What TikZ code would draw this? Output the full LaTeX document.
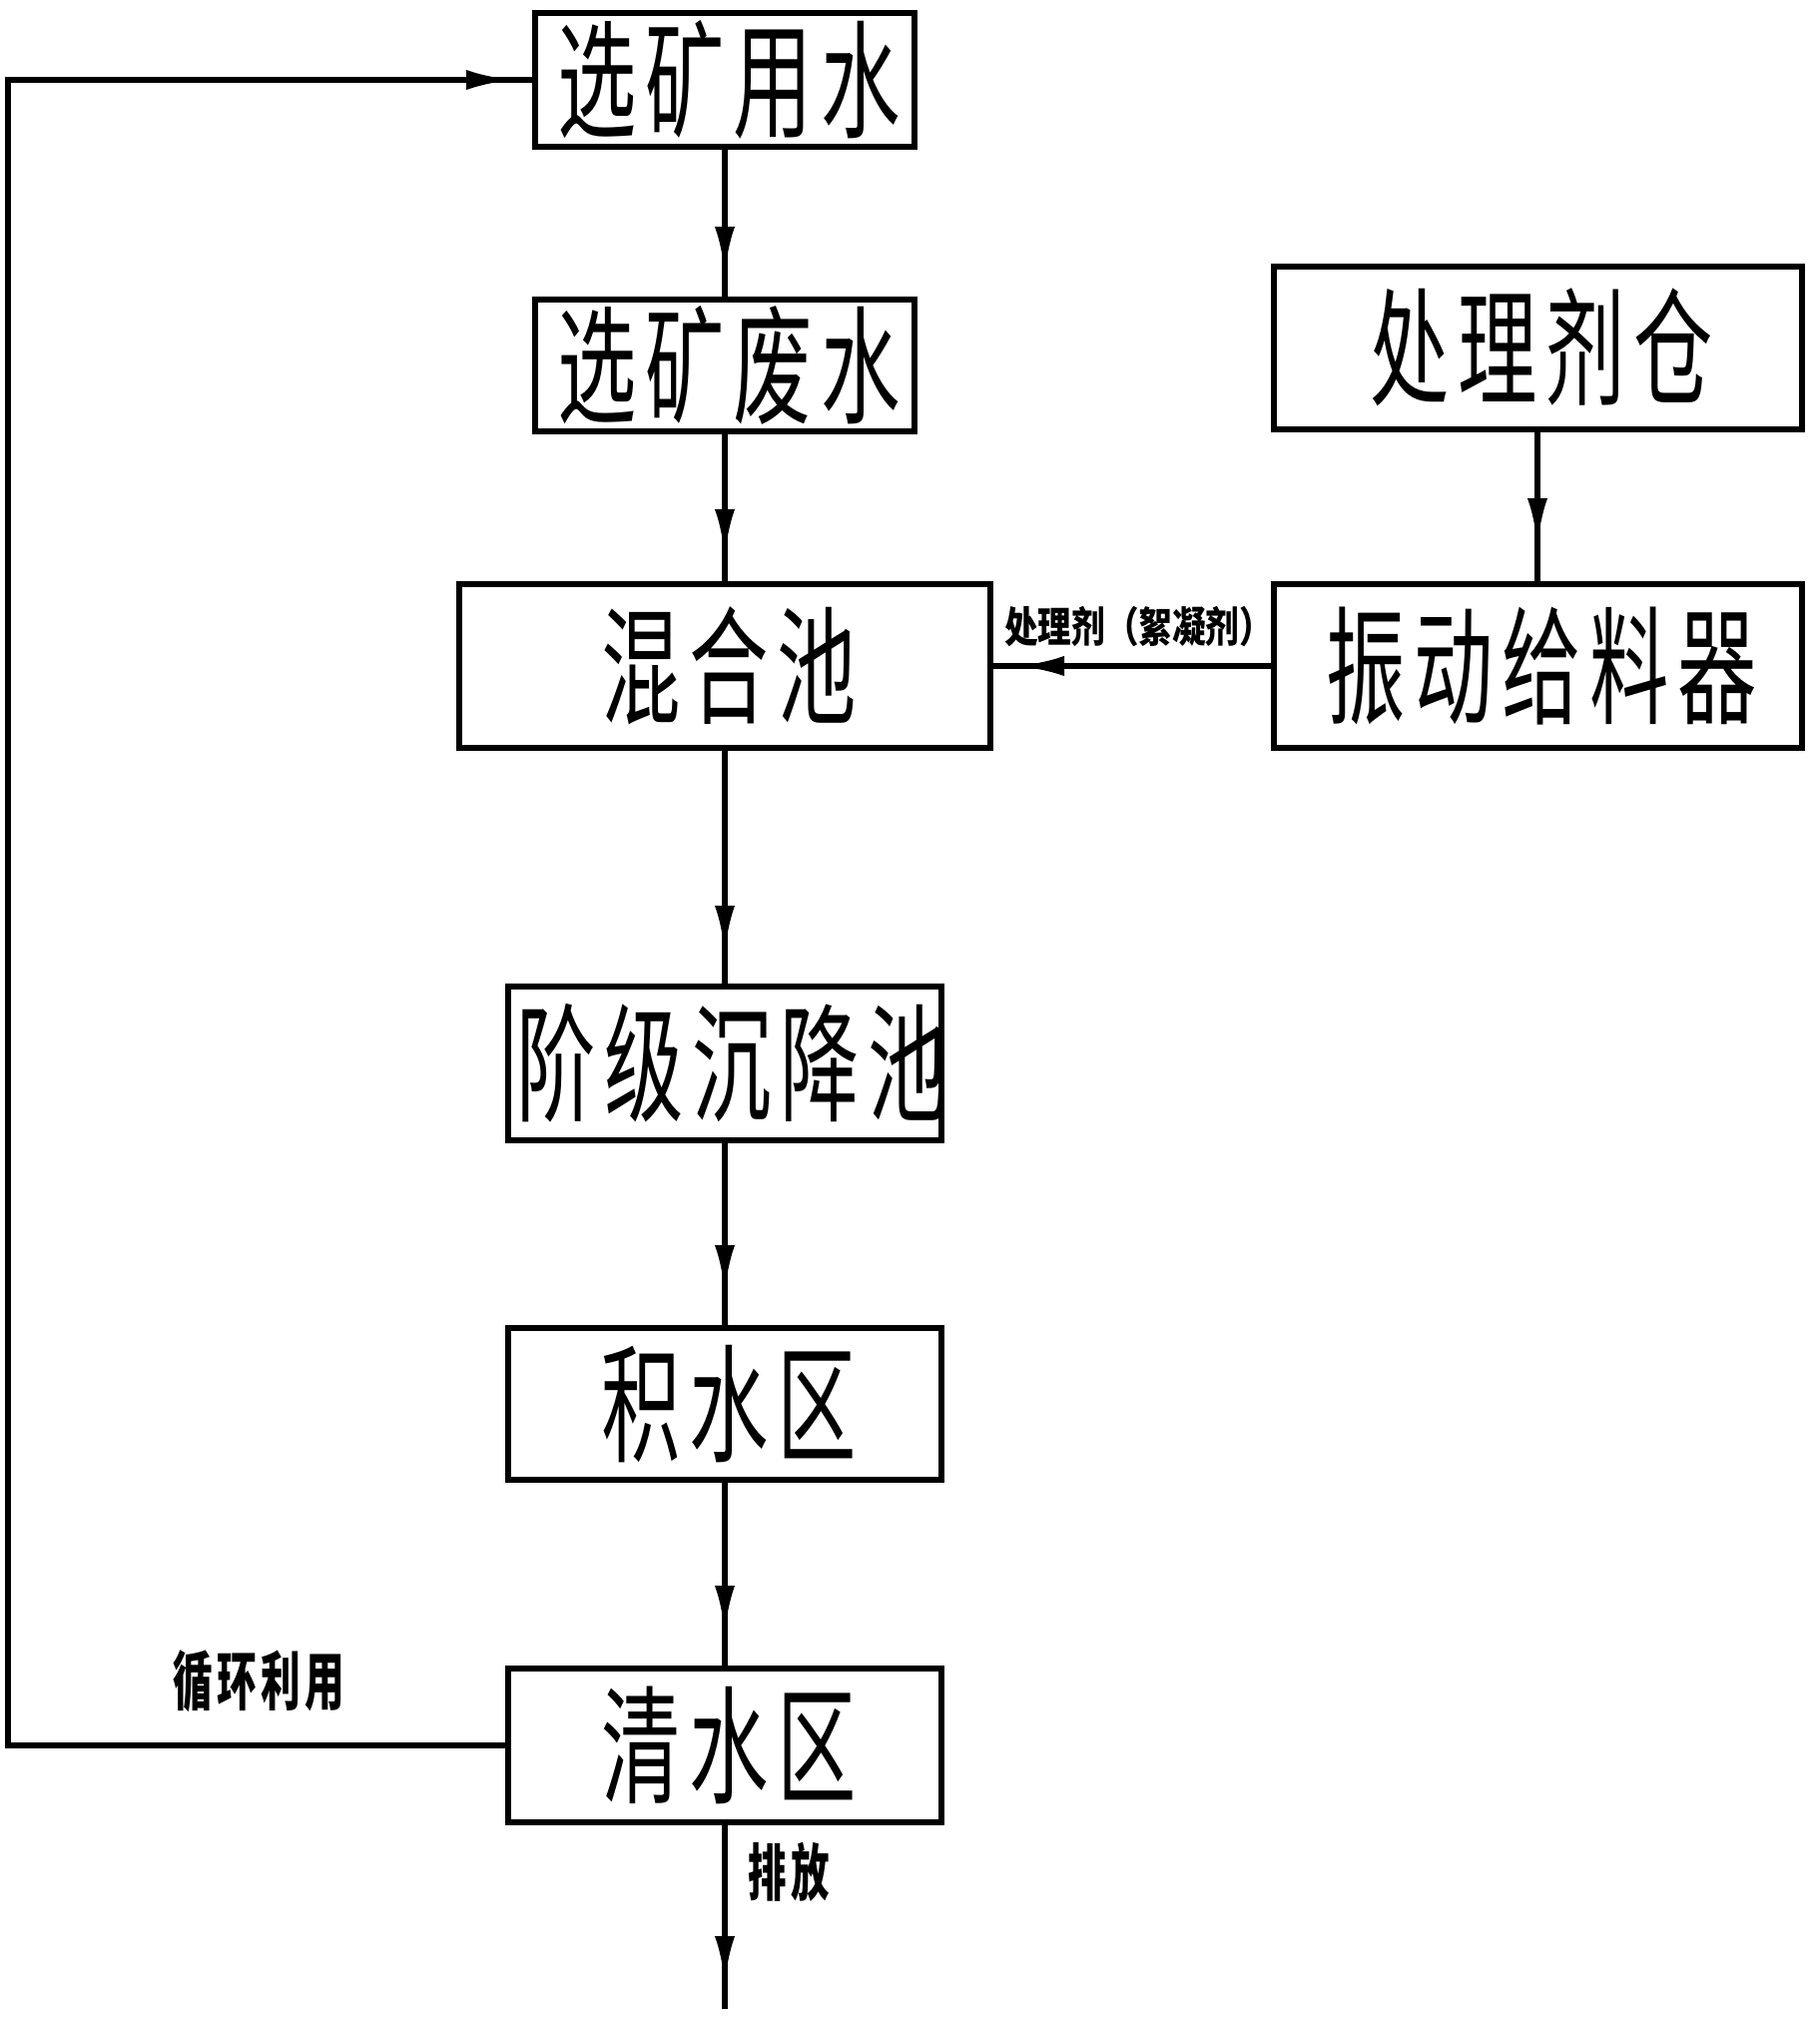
\documentclass[tikz,border=0pt]{standalone}
\usepackage{fontspec}
\newfontfamily\cjk[FakeStretch=0.62,LetterSpace=6.7]{Noto Sans CJK SC}
\newfontfamily\cjkl[FakeStretch=0.8]{Noto Sans CJK SC}
\usetikzlibrary{arrows.meta,decorations.markings}
\tikzset{
  box/.style={draw, line width=6pt, inner sep=0pt,
    font=\cjk\fontsize{128}{130}\selectfont, text height=106pt, text depth=9pt},
  lab/.style={inner sep=0pt},
  flow/.style={line width=6pt, postaction={decorate},
    decoration={markings, mark=at position #1 with {\arrow{Latex[length=48pt,width=20pt]}}}},
}
\begin{document}
\begin{tikzpicture}[x=1pt,y=-1pt]
\useasboundingbox (0,0) rectangle (1823,2022);
\node[box, minimum width=380pt, minimum height=134pt] (b1) at (726,80) {\hspace{8pt}选矿用水};
\node[box, minimum width=380pt, minimum height=132pt] (b2) at (726,366) {\hspace{8pt}选矿废水};
\node[box, minimum width=532pt, minimum height=164pt] (b3) at (726,667) {\hspace{8pt}混合池};
\node[box, minimum width=529pt, minimum height=163pt] (b4) at (1540,348) {\hspace{8pt}处理剂仓};
\node[box, minimum width=529pt, minimum height=164pt] (b5) at (1540,667) {\hspace{8pt}振动给料器};
\node[box, minimum width=434pt, minimum height=154pt] (b6) at (726,1065) {\makebox[400pt]{\hspace{14pt}阶级沉降池}};
\node[box, minimum width=434pt, minimum height=152pt] (b7) at (726,1406) {\hspace{8pt}积水区};
\node[box, minimum width=434pt, minimum height=154pt] (b8) at (726,1748) {\hspace{8pt}清水区};
\coordinate (lp) at (8,80);
\coordinate (out) at (726,2012);
\node[lab, anchor=west, font=\cjkl\bfseries\fontsize{42}{44}\selectfont, text height=35pt, text depth=3pt] (l1) at (1006,627) {处理剂（絮凝剂）};
\node[lab, font=\cjk\bfseries\fontsize{64}{66}\selectfont, text height=53pt, text depth=4pt] (l2) at (259,1683) {循环利用};
\node[lab, font=\cjk\bfseries\fontsize{62}{64}\selectfont, text height=51pt, text depth=4pt] (l3) at (790,1875) {排放};
\draw[flow=-22pt] (b1) -- (b2);
\draw[flow=-24pt] (b2) -- (b3);
\draw[flow=-30pt] (b3) -- (b6);
\draw[flow=-32pt] (b6) -- (b7);
\draw[flow=-32pt] (b7) -- (b8);
\draw[flow=-25pt] (b8) -- (out);
\draw[flow=-35pt] (b4) -- (b5);
\draw[flow=-23pt] (b5) -- (b3);
\draw[flow=-18pt] (b8.west) -| (lp) -- (b1.west);
\end{tikzpicture}
\end{document}
